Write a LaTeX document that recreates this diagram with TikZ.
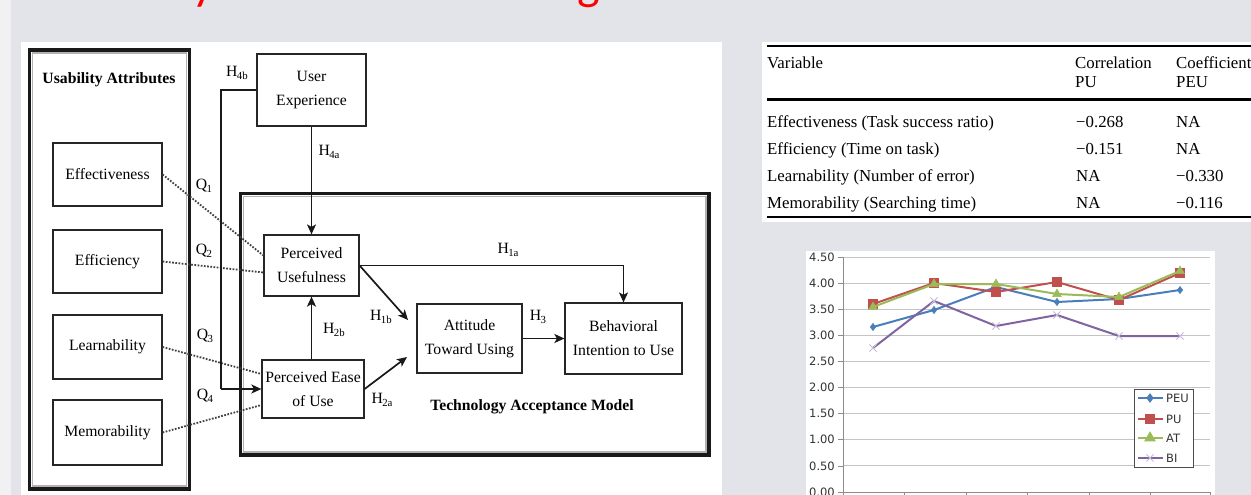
\documentclass[tikz,border=0pt]{standalone}
\usepackage{fontspec}
\setmainfont{Liberation Serif}
\newfontfamily\chartfont{DejaVu Sans}
\newfontfamily\titlefont{Carlito}
\usetikzlibrary{arrows.meta,calc,plotmarks}
\definecolor{slidebg}{HTML}{E3E4E9}
\definecolor{stripcol}{HTML}{F1F1F4}
\definecolor{peucol}{HTML}{4A7EBB}
\definecolor{pucol}{HTML}{C0504D}
\definecolor{atcol}{HTML}{9BBB59}
\definecolor{bicol}{HTML}{8064A2}
\definecolor{gridcol}{HTML}{C4C4C4}
\definecolor{axiscol}{HTML}{8C8C8C}
\newcommand\diagfont{\fontsize{15.7}{24}\selectfont}
\newcommand\tabfont{\fontsize{16.8}{20}\selectfont}
\newcommand\cfont{\chartfont\fontsize{11.5}{13}\selectfont}
\newcommand\hs[2]{#1\kern-0.6pt\raisebox{-2.4pt}{\fontsize{10.8}{11}\selectfont #2}}
\tikzset{
  box/.style={draw=black!85, line width=1.2pt, fill=white, align=center, inner sep=0pt, font=\diagfont},
  lab/.style={font=\diagfont, inner sep=0pt},
  conn/.style={line width=1.2pt, black!90},
  arr/.style={conn, -{Stealth[length=10pt,width=9pt,inset=2.5pt]}},
  arrb/.style={line width=1.7pt, black!90, -{Stealth[length=10pt,width=9pt,inset=2.5pt]}},
  dotline/.style={line width=1.8pt, black!75, dash pattern=on 1.7pt off 1.5pt},
  tab/.style={font=\tabfont, inner sep=0pt, anchor=base west},
  ylab/.style={font=\cfont, inner sep=0pt, anchor=east, text=black!80},
  leg/.style={font=\cfont, inner sep=0pt, anchor=west, text=black!80},
  series/.style={line width=2pt},
}
\begin{document}
\begin{tikzpicture}[x=1pt,y=-1pt]
\useasboundingbox (0,0) rectangle (1251,495);
\clip (0,0) rectangle (1251,495);
% slide background
\fill[slidebg] (0,0) rectangle (1251,495);
\fill[stripcol] (0,0) rectangle (11,495);
% title fragments (cut off at the top: only descenders show)
\begin{scope}
\clip (0,0) rectangle (1251,10.5);
\node[text=red, font=\titlefont\fontsize{48}{48}\selectfont, anchor=base, inner sep=0pt] (tity) at (203,0) {y};
\node[text=red, font=\titlefont\fontsize{48}{48}\selectfont, anchor=base, inner sep=0pt] (titg) at (589,0) {g};
\end{scope}
% panels
\fill[white] (21,42) rectangle (722,495);
\fill[white] (762,42) rectangle (1251,222);
\fill[white] (806,251) rectangle (1215,495);

% ---------------- Left diagram ----------------
% Usability attributes frame
\draw[line width=3.5pt, black!90] (29.5,50) rectangle (189.5,489);
\draw[line width=1.2pt, gray!60] (32.5,53) rectangle (186.5,486);
\node[lab, font=\diagfont\bfseries] (uatitle) at (109,80) {Usability Attributes};
% TAM frame
\draw[line width=3.2pt, black!90] (240.5,193.5) rectangle (709,455);
\draw[line width=1.2pt, gray!60] (243.5,196.5) rectangle (706,452);

\node[box, minimum width=109pt, minimum height=63pt] (eff) at (107.5,174.5) {Effectiveness};
\node[box, minimum width=109pt, minimum height=63pt] (effi) at (107.5,261.5) {Efficiency};
\node[box, minimum width=109pt, minimum height=64pt] (learn) at (107.5,347) {Learnability};
\node[box, minimum width=109pt, minimum height=65pt] (mem) at (107.5,432.5) {Memorability};

\node[box, minimum width=109pt, minimum height=72pt] (ue) at (311.5,90) {User\\Experience};
\node[box, minimum width=95pt, minimum height=61pt] (pu) at (311.5,265.5) {Perceived\\Usefulness};
\node[box, minimum width=102pt, minimum height=58pt] (peu) at (313,389) {Perceived Ease\\of Use};
\node[box, minimum width=105pt, minimum height=69pt] (atu) at (469.5,338.5) {Attitude\\Toward Using};
\node[box, minimum width=117pt, minimum height=71pt] (biu) at (623.5,338.5) {Behavioral\\Intention to Use};

\node[lab, font=\diagfont\bfseries] (tamtitle) at (532,407) {Technology Acceptance Model};

% dotted links
\draw[dotline] (eff.east) -- ([yshift=10pt]pu.west);
\draw[dotline] (effi.east) -- ([yshift=-7pt]pu.west);
\draw[dotline] (learn.east) -- ([yshift=15pt]peu.west);
\draw[dotline] (mem.east) -- ([yshift=-16pt]peu.west);

% H4b
\coordinate (h4ba) at (221,90);
\coordinate (h4bb) at (221,389);
\draw[conn] (ue.west) -- (h4ba) -- (h4bb);
\draw[arrb] (h4bb) -- (peu.west);
% H4a
\draw[arr] (ue.south) -- (pu.north);
% H2b
\draw[arrb] (peu.north -| pu.south) -- (pu.south);
% H1a
\draw[arr] (pu.east) -| (biu.north);
% H1b
\coordinate (h1bend) at (408,320);
\draw[arrb] (pu.east) -- (h1bend);
% H2a
\coordinate (h2aend) at (407,357);
\draw[arrb] (peu.east) -- (h2aend);
% H3
\draw[arrb] (atu.east) -- (biu.west);

% labels
\node[lab] (lh4b) at (237,73) {\hs{H}{4b}};
\node[lab] (lh4a) at (329,152) {\hs{H}{4a}};
\node[lab] (lq1) at (204,186) {\hs{Q}{1}};
\node[lab] (lq2) at (204,251) {\hs{Q}{2}};
\node[lab] (lq3) at (205,336) {\hs{Q}{3}};
\node[lab] (lq4) at (205,396) {\hs{Q}{4}};
\node[lab] (lh2b) at (334,330) {\hs{H}{2b}};
\node[lab] (lh1b) at (381,317) {\hs{H}{1b}};
\node[lab] (lh2a) at (382,400) {\hs{H}{2a}};
\node[lab] (lh1a) at (508,250) {\hs{H}{1a}};
\node[lab] (lh3) at (538,317) {\hs{H}{3}};

% ---------------- Table ----------------
\draw[line width=1.3pt] (767,46) -- (1251,46);
\draw[line width=2.6pt] (767,99.5) -- (1251,99.5);
\draw[line width=1.3pt] (767,217) -- (1251,217);
\node[tab] (thvar) at (767,69) {Variable};
\node[tab] (thcor) at (1075,69) {Correlation};
\node[tab] (thcoef) at (1176,69) {Coefficient};
\node[tab] (thpu) at (1075,88) {PU};
\node[tab] (thpeu) at (1176,88) {PEU};
\node[tab] (r1a) at (767,127) {Effectiveness (Task success ratio)};
\node[tab] (r1b) at (1076,127) {−0.268};
\node[tab] (r1c) at (1176,127) {NA};
\node[tab] (r2a) at (767,154) {Efficiency (Time on task)};
\node[tab] (r2b) at (1076,154) {−0.151};
\node[tab] (r2c) at (1176,154) {NA};
\node[tab] (r3a) at (767,181) {Learnability (Number of error)};
\node[tab] (r3b) at (1076,181) {NA};
\node[tab] (r3c) at (1176,181) {−0.330};
\node[tab] (r4a) at (767,208) {Memorability (Searching time)};
\node[tab] (r4b) at (1076,208) {NA};
\node[tab] (r4c) at (1176,208) {−0.116};

% ---------------- Chart ----------------
\foreach \v in {1,...,9}{
  \draw[gridcol, line width=1pt] (843,492-26.1*\v) -- (1210,492-26.1*\v);
}
\foreach \v/\t in {0/0.00,1/0.50,2/1.00,3/1.50,4/2.00,5/2.50,6/3.00,7/3.50,8/4.00,9/4.50}{
  \draw[axiscol, line width=0.8pt] (838,492-26.1*\v) -- (843,492-26.1*\v);
  \node[ylab] (yl\v) at (835,492-26.1*\v) {\t};
}
\draw[axiscol, line width=1pt] (843,257) -- (843,495);
\draw[axiscol, line width=1pt] (843,492) -- (1210,492);
\foreach \x in {904,966,1027,1089,1150,1210}{
  \draw[axiscol, line width=0.8pt] (\x,492) -- (\x,497);
}
\draw[series, peucol, mark=diamond*, mark size=3.6pt, mark options={fill=peucol, line width=0.5pt}]
  plot coordinates {(873,327) (934,310) (996,287) (1057,302) (1119,299) (1180,290)};
\draw[series, pucol, mark=square*, mark size=4.5pt, mark options={fill=pucol, line width=0.5pt}]
  plot coordinates {(873,304) (934,283) (996,292) (1057,282) (1119,300) (1180,273)};
\draw[series, atcol, mark=triangle*, mark size=5pt, mark options={fill=atcol, line width=0.5pt}]
  plot coordinates {(873,307) (934,284) (996,284) (1057,294) (1119,297) (1180,271)};
\draw[series, bicol, mark=x, mark size=5pt, mark options={draw=bicol!45, line width=1pt}]
  plot coordinates {(873,348) (934,301) (996,326) (1057,315) (1119,336) (1180,336)};
% legend
\draw[black!70, fill=white, line width=1pt] (1134,389) rectangle (1193,467);
\draw[series, peucol, mark=diamond*, mark size=3.2pt, mark indices={2}, mark options={fill=peucol}]
  plot coordinates {(1138,398) (1150,398) (1163,398)};
\draw[series, pucol, mark=square*, mark size=4.3pt, mark indices={2}, mark options={fill=pucol}]
  plot coordinates {(1138,419) (1150,419) (1163,419)};
\draw[series, atcol, mark=triangle*, mark size=4.8pt, mark indices={2}, mark options={fill=atcol}]
  plot coordinates {(1138,438) (1150,438) (1163,438)};
\draw[series, bicol, mark=x, mark size=5pt, mark indices={2}, mark options={draw=bicol!45, line width=1pt}]
  plot coordinates {(1138,458) (1150,458) (1163,458)};
\node[leg] (lpeu) at (1166,398) {PEU};
\node[leg] (lpu) at (1166,419) {PU};
\node[leg] (lat) at (1166,438) {AT};
\node[leg] (lbi) at (1166,458) {BI};
\end{tikzpicture}
\end{document}
